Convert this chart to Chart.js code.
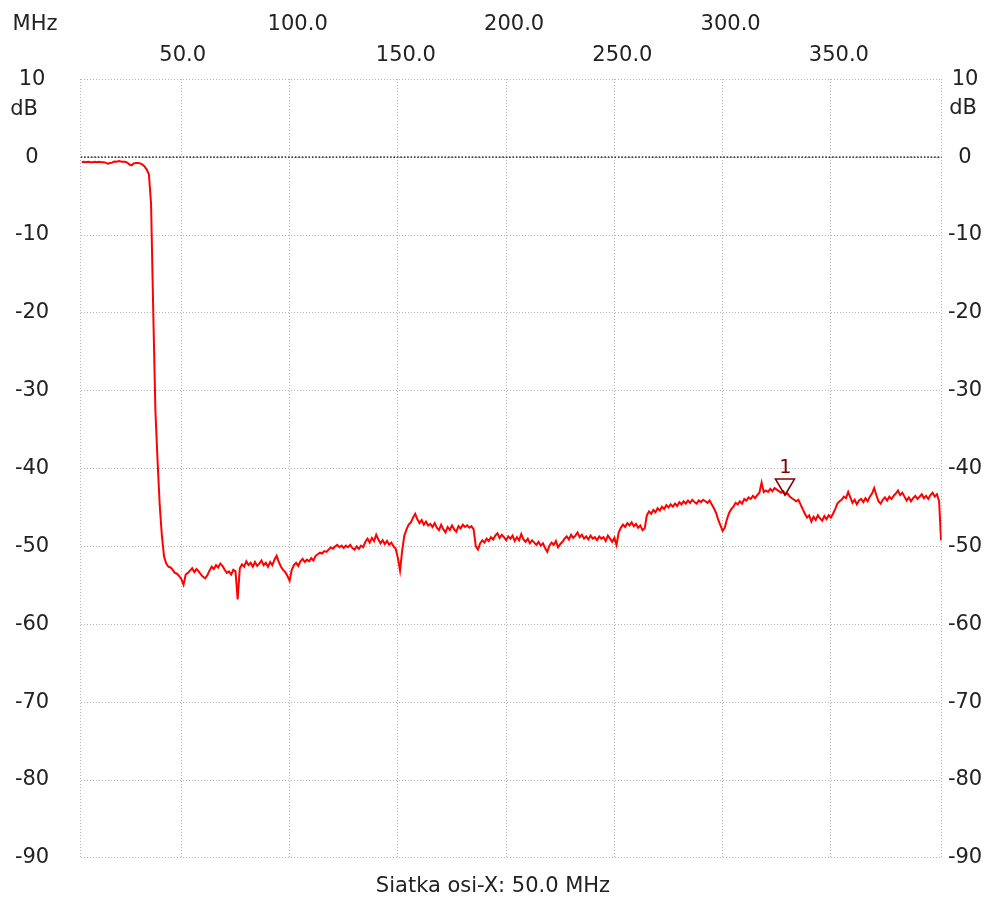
<!DOCTYPE html>
<html><head><meta charset="utf-8">
<script src="https://cdn.jsdelivr.net/npm/chart.js@4.4.0/dist/chart.umd.min.js"></script>
<style>html,body{margin:0;padding:0;background:#fff;}#wrap{width:986px;height:902px;position:relative;}</style>
</head><body><div id="wrap"><canvas id="c" width="986" height="902"></canvas></div>
<script>
// ---- data ----
const sweepStartMHz = 4;   // first sample frequency
const sweepStepMHz = 1;    // sample spacing
const levelDb = [
  -0.65, -0.6, -0.65, -0.6, -0.65, -0.65, -0.6,
  -0.65, -0.6, -0.65, -0.65, -0.7, -0.85, -0.75, -0.7, -0.55, -0.6,
  -0.5, -0.55, -0.6, -0.6, -0.7, -0.95, -1.05, -0.8, -0.75, -0.75,
  -0.8, -0.95, -1.2, -1.6, -2.2, -6.0, -19.7, -32.5, -39.0, -44.7,
  -48.6, -51.3, -52.2, -52.6, -52.7, -53.0, -53.4, -53.5, -53.8, -54.2,
  -54.9, -53.6, -53.4, -53.1, -52.8, -53.3, -52.9, -53.2, -53.6, -53.9,
  -54.1, -53.7, -53.1, -52.6, -52.9, -52.4, -52.7, -52.2, -52.5, -53.0,
  -53.4, -53.2, -53.6, -53.0, -53.2, -56.8, -52.8, -52.3, -52.6, -51.9,
  -52.4, -52.1, -52.6, -52.0, -52.5, -52.2, -51.8, -52.4, -52.1, -52.6,
  -52.0, -52.4, -51.7, -51.2, -52.0, -52.6, -53.0, -53.3, -53.8, -54.4,
  -53.0, -52.4, -52.1, -52.5, -51.9, -51.6, -52.0, -51.7, -51.9, -51.5,
  -51.8, -51.2, -51.0, -50.8, -50.9, -50.6, -50.7, -50.4, -50.1, -50.3,
  -50.0, -49.8, -50.1, -49.9, -50.2, -49.9, -50.1, -49.8, -50.2, -50.4,
  -50.0, -50.3, -49.9, -50.1, -49.4, -49.0, -49.5, -48.9, -49.3, -48.5,
  -49.1, -49.6, -49.2, -49.7, -49.3, -49.8, -49.5, -50.0, -50.3, -51.5,
  -53.1, -50.5, -48.6, -47.8, -47.2, -46.9, -46.3, -45.8, -46.5, -47.0,
  -46.6, -47.2, -46.8, -47.3, -47.1, -47.5, -47.0, -47.6, -47.9, -47.2,
  -47.8, -48.2, -47.5, -47.9, -47.3, -47.8, -48.1, -47.4, -47.7, -47.2,
  -47.5, -47.3, -47.6, -47.4, -47.8, -50.0, -50.4, -49.6, -49.2, -49.5,
  -49.0, -49.3, -48.8, -49.1, -48.6, -48.3, -48.9, -48.5, -48.8, -49.2,
  -48.7, -49.0, -48.6, -49.3, -48.8, -49.2, -48.4, -49.1, -49.4, -49.0,
  -49.6, -49.2, -49.5, -49.8, -49.4, -49.9, -49.6, -50.2, -50.7, -49.9,
  -49.5, -49.8, -49.3, -50.1, -49.7, -49.4, -49.0, -48.7, -49.1, -48.5,
  -48.9, -48.6, -48.2, -48.8, -48.5, -49.0, -48.7, -49.1, -48.6, -49.0,
  -48.8, -49.2, -48.7, -49.0, -48.8, -49.3, -48.6, -49.0, -49.4, -48.9,
  -49.8, -48.2, -47.6, -47.2, -47.5, -47.0, -47.3, -46.9, -47.4, -47.1,
  -47.6, -47.3, -47.9, -47.7, -46.0, -45.5, -45.8, -45.3, -45.6, -45.1,
  -45.4, -44.9, -45.2, -44.7, -45.0, -44.6, -44.9, -44.5, -44.8, -44.3,
  -44.6, -44.2, -44.5, -44.1, -44.4, -44.0, -44.3, -44.5, -44.1, -44.3,
  -44.0, -44.2, -44.4, -44.1, -44.6, -45.1, -45.7, -46.6, -47.3, -48.0,
  -47.6, -46.5, -45.7, -45.2, -44.9, -44.4, -44.6, -44.2, -44.5, -43.9,
  -44.1, -43.7, -43.9, -43.5, -43.8, -43.4, -43.1, -41.8, -43.0, -42.8,
  -43.0, -42.6, -42.9, -42.5, -42.7, -42.9, -43.1, -42.9, -43.3, -43.2,
  -43.6, -43.8, -44.0, -44.2, -44.0, -44.6, -45.2, -45.8, -46.3, -46.0,
  -46.8, -46.2, -46.6, -46.0, -46.4, -46.7, -46.1, -46.5, -46.0, -46.3,
  -45.8, -45.2, -44.5, -44.2, -44.0, -43.6, -43.8, -43.0, -43.7, -44.4,
  -44.0, -44.6, -44.1, -43.9, -44.3, -43.8, -44.2, -43.6, -43.2, -42.5,
  -43.4, -44.2, -44.5, -44.0, -43.7, -44.1, -43.6, -43.9, -43.5, -43.2,
  -42.8, -43.4, -43.1, -43.6, -44.1, -43.7, -44.2, -43.8, -43.5, -43.9,
  -43.6, -43.3, -43.8, -43.5, -43.9, -43.4, -43.1, -43.6, -43.3, -44.2
];
const tailFreqMHz = [400.9];
const tailLevelDb = [-49.2];

const xTicksMHz = [50, 100, 150, 200, 250, 300, 350];
const yTicksDb = [10, 0, -10, -20, -30, -40, -50, -60, -70, -80, -90];
const markerFreqMHz = [328.8];
const markerDb = [-43.4];
const markerLabels = ['1'];
const xUnitText = 'MHz';
const yUnitText = 'dB';
const footerText = 'Siatka osi-X: 50.0 MHz';
const X_MIN = 3.5, X_MAX = 401.2, Y_MIN = -90, Y_MAX = 10;

// ---- build points ----
const tracePoints = levelDb.map((v, i) => ({ x: sweepStartMHz + i * sweepStepMHz, y: v }));
tailFreqMHz.forEach((f, i) => tracePoints.push({ x: f, y: tailLevelDb[i] }));
const zeroLine = [{ x: X_MIN, y: 0 }, { x: X_MAX, y: 0 }];

const FONT = 'DejaVu Sans';
const TXT = '#222';
const GRID = '#b4b4b4';

const annotPlugin = {
  id: 'annot',
  afterDraw(chart) {
    const ctx = chart.ctx;
    const xs = chart.scales.x, ys = chart.scales.y;
    ctx.save();
    ctx.fillStyle = TXT;
    ctx.font = '21px "' + FONT + '"';
    ctx.textAlign = 'center';
    ctx.textBaseline = 'middle';
    ctx.fillText(xUnitText, 35, 25);
    ctx.fillText(yUnitText, 24, 110);
    ctx.fillText(yUnitText, 963, 109);
    // markers
    markerFreqMHz.forEach((f, i) => {
      const px = xs.getPixelForValue(f);
      const py = ys.getPixelForValue(markerDb[i]);
      ctx.strokeStyle = '#800000';
      ctx.lineWidth = 1.6;
      ctx.beginPath();
      ctx.moveTo(px - 9.5, py - 16);
      ctx.lineTo(px + 9.5, py - 16);
      ctx.lineTo(px, py);
      ctx.closePath();
      ctx.stroke();
      ctx.fillStyle = '#800000';
      ctx.font = '20px "DejaVu Sans Mono"';
      ctx.fillText(markerLabels[i], px, py - 27);
    });
    ctx.restore();
  }
};

new Chart(document.getElementById('c'), {
  type: 'line',
  data: {
    datasets: [
      { data: tracePoints, borderColor: '#ff0000', borderWidth: 2, pointRadius: 0, tension: 0, fill: false, order: 0 },
      { data: zeroLine, borderColor: '#444', borderWidth: 1.6, borderDash: [1.6, 1.8], pointRadius: 0, fill: false, order: 1 }
    ]
  },
  options: {
    responsive: false,
    animation: false,
    events: [],
    layout: { padding: 0 },
    plugins: {
      legend: { display: false },
      tooltip: { enabled: false },
      title: {
        display: true, position: 'bottom', text: footerText, color: TXT,
        font: { family: FONT, size: 21, weight: 'normal', lineHeight: '26px' },
        padding: { top: 15.7, bottom: 1 }
      }
    },
    scales: {
      x: {
        type: 'linear', position: 'top', min: X_MIN, max: X_MAX,
        afterBuildTicks: s => { s.ticks = [X_MIN, ...xTicksMHz, X_MAX].map(v => ({ value: v })); },
        afterFit: s => { s.height = 79.3; },
        grid: { color: GRID, lineWidth: 1, drawTicks: false },
        border: { display: false, dash: [1, 2] },
        ticks: {
          autoSkip: false, maxRotation: 0, minRotation: 0, align: 'start', labelOffset: -22,
          padding: 7.8, color: TXT, font: { family: FONT, size: 21, lineHeight: '31px' },
          callback: (v) => {
            const idx = xTicksMHz.indexOf(v);
            if (idx < 0) return '';
            const t = v.toFixed(1);
            return idx % 2 === 1 ? [t, ''] : ['', t];
          }
        }
      },
      y: {
        type: 'linear', position: 'left', min: Y_MIN, max: Y_MAX,
        afterBuildTicks: s => { s.ticks = yTicksDb.map(v => ({ value: v })); },
        afterFit: s => { s.width = 80.7; },
        grid: { color: GRID, lineWidth: 1, drawTicks: false },
        border: { display: false, dash: [1, 2] },
        ticks: { crossAlign: 'center', padding: 31.5, color: TXT, font: { family: FONT, size: 21 }, callback: v => String(v) }
      },
      y2: {
        type: 'linear', position: 'right', min: Y_MIN, max: Y_MAX,
        afterBuildTicks: s => { s.ticks = yTicksDb.map(v => ({ value: v })); },
        afterFit: s => { s.width = 44.3; },
        grid: { display: false, drawTicks: false },
        border: { display: false },
        ticks: { crossAlign: 'center', padding: 6.2, color: TXT, font: { family: FONT, size: 21 }, callback: v => String(v) }
      }
    }
  },
  plugins: [annotPlugin]
});
</script>
</body></html>
